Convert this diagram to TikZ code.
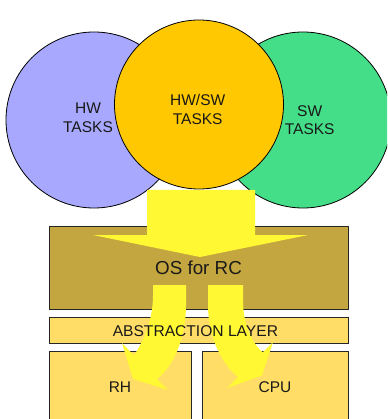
\documentclass[tikz,border=0pt]{standalone}
\usepackage{fontspec}
\setmainfont{Liberation Sans}
\definecolor{hwblue}{HTML}{A8A8FF}
\definecolor{hwsw}{HTML}{FFC800}
\definecolor{swgreen}{HTML}{44DE88}
\definecolor{arrowyellow}{HTML}{FFF833}
\definecolor{osbrown}{HTML}{C4A640}
\definecolor{layer}{HTML}{FFDD66}
\begin{document}
\begin{tikzpicture}[x=1pt,y=-1pt,
  box/.style={draw=black!85, line width=0.9pt, inner sep=0pt, anchor=north west},
  bubble/.style={circle, draw=black, line width=0.8pt, inner sep=0pt},
  lbl/.style={text=black!90, align=center, inner sep=0pt},
  bubtext/.style={lbl, font=\fontsize{15.5}{18.5}\selectfont},
  flow/.style={fill=arrowyellow, draw=none}]
\useasboundingbox (0,0) rectangle (387,419);
\clip (0,0) rectangle (387,419);
% boxes
\node[box, fill=osbrown, minimum width=299pt, minimum height=83pt] (os) at (49,226) {};
\node[box, fill=layer, minimum width=299pt, minimum height=26pt] (abs) at (49,317) {};
\node[box, fill=layer, minimum width=142pt, minimum height=80pt] (rh) at (49,351) {};
\node[box, fill=layer, minimum width=146pt, minimum height=80pt] (cpu) at (202,351) {};
% circles
\node[bubble, fill=hwblue, minimum size=176pt] (hw) at (94,120) {};
\node[bubble, fill=swgreen, minimum size=176pt] (sw) at (303,120) {};
\node[bubtext] (hwt) at (88,117.7) {HW\\TASKS};
\node[bubtext] (swt) at (309.7,120.4) {SW\\TASKS};
\node[bubble, fill=hwsw, minimum size=169pt] (hwsw) at (199,104.5) {};
\node[bubtext] (hwswt) at (197.7,109.4) {HW/SW\\TASKS};
% big arrow
\fill[flow] (147,190) -- (255,190) -- (255,235) -- (308,235) -- (200,257) -- (93,235) -- (147,235) -- cycle;
\node[lbl, font=\fontsize{18.8}{22}\selectfont, anchor=base] (ost) at (198.5,274) {OS for RC};
% curved arrows
\fill[flow] (153,285) -- (186,285) -- (186,305) .. controls (186,340) and (172,368) .. (157,379) -- (168,390) -- (133,379) -- (122,343) -- (134,355.5) .. controls (144,340) and (153,320) .. (153,295) -- cycle;
\fill[flow] (208,285) -- (243,285) -- (243,300) .. controls (243,325) and (252,343) .. (262.7,352.3) -- (273,342) -- (262,375.5) -- (227,388) -- (238,377) .. controls (224,366) and (208,340) .. (208,305) -- cycle;
% labels
\node[lbl, font=\fontsize{15.6}{18}\selectfont, anchor=base] (abst) at (195.4,336.3) {ABSTRACTION LAYER};
\node[lbl, font=\fontsize{15.5}{18}\selectfont, anchor=base] (rht) at (120,392) {RH};
\node[lbl, font=\fontsize{15.5}{18}\selectfont, anchor=base] (cput) at (275,392) {CPU};
\end{tikzpicture}
\end{document}
